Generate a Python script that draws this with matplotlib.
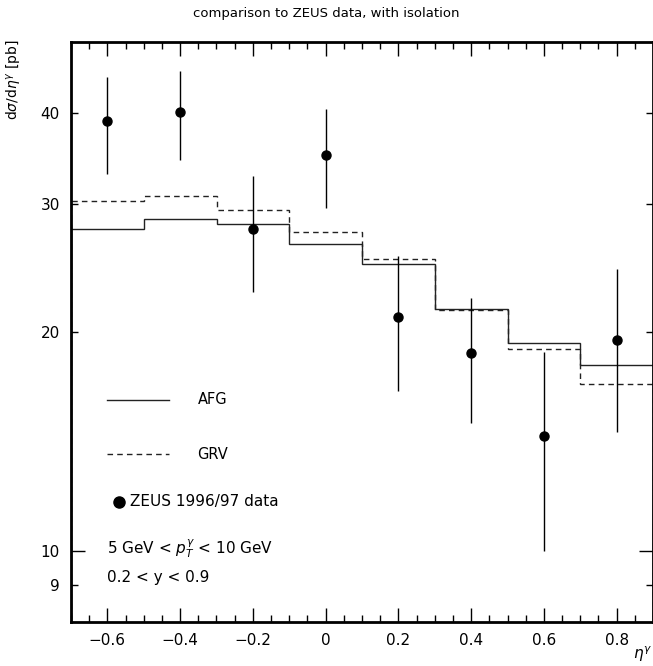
import matplotlib
matplotlib.use("Agg")
import matplotlib.pyplot as plt
from matplotlib.ticker import FixedLocator, FixedFormatter, MultipleLocator

plt.rcParams["font.family"] = ["DejaVu Sans"]
plt.rcParams["mathtext.fontset"] = "dejavusans"

# eta bins for the NLO predictions
bin_edges = [-0.7, -0.5, -0.3, -0.1, 0.1, 0.3, 0.5, 0.7, 0.9]
afg_xsec = [27.7, 28.6, 28.1, 26.4, 24.8, 21.5, 19.3, 18.0]
grv_xsec = [30.3, 30.7, 29.4, 27.4, 25.15, 21.45, 18.95, 16.95]

# ZEUS 1996/97 measurement
zeus_eta = [-0.6, -0.4, -0.2, 0.0, 0.2, 0.4, 0.6, 0.8]
zeus_xsec = [38.9, 40.1, 27.7, 35.0, 20.95, 18.7, 14.4, 19.5]
zeus_hi = [44.7, 45.6, 32.7, 40.4, 25.4, 22.3, 18.8, 24.4]
zeus_lo = [33.0, 34.4, 22.7, 29.6, 16.6, 15.0, 10.0, 14.6]

x_ticks = [-0.6, -0.4, -0.2, 0, 0.2, 0.4, 0.6, 0.8]
x_tick_labels = ["\u22120.6", "\u22120.4", "\u22120.2", "0", "0.2", "0.4", "0.6", "0.8"]
y_major = [10]
y_minor = [9, 20, 30, 40]

fig = plt.figure(figsize=(6.53, 6.66), dpi=100)
ax = fig.add_axes([71 / 653, 44 / 666, 582 / 653, 580 / 666])

ax.stairs(afg_xsec, bin_edges, color="#222222", lw=1.0)
ax.stairs(grv_xsec, bin_edges, color="#222222", lw=1.0, ls=(0, (4, 3)))

err_lo = [v - lo for v, lo in zip(zeus_xsec, zeus_lo)]
err_hi = [hi - v for v, hi in zip(zeus_xsec, zeus_hi)]
ax.errorbar(zeus_eta, zeus_xsec, yerr=[err_lo, err_hi], fmt="o", color="black",
            ms=6.5, elinewidth=1.0, capsize=0)

ax.set_yscale("log")
ax.set_xlim(-0.7, 0.9)
ax.set_ylim(8, 50)

ax.xaxis.set_major_locator(FixedLocator(x_ticks))
ax.set_xticklabels(x_tick_labels)
ax.xaxis.set_minor_locator(MultipleLocator(0.05))
ax.yaxis.set_major_locator(FixedLocator(y_major))
ax.yaxis.set_minor_locator(FixedLocator(y_minor))
ax.yaxis.set_major_formatter(FixedFormatter(["10"]))
ax.yaxis.set_minor_formatter(FixedFormatter([str(v) for v in y_minor]))

ax.tick_params(which="both", direction="in", top=True, right=True, labelsize=11,
               width=1.0, pad=8)
ax.tick_params(which="major", length=10)
ax.tick_params(which="minor", length=5)
ax.tick_params(axis="y", which="minor", labelsize=11, pad=8)
for s in ax.spines.values():
    s.set_linewidth(2.0)

# legend drawn by hand in data coordinates
ax.plot([-0.6, -0.43], [16.15, 16.15], color="#222222", lw=1.0)
ax.text(-0.352, 16.15, "AFG", fontsize=10.5, va="center")
ax.plot([-0.6, -0.43], [13.6, 13.6], color="#222222", lw=1.0, ls=(0, (4, 3)))
ax.text(-0.352, 13.6, "GRV", fontsize=10.5, va="center")
ax.plot([-0.567], [11.7], "o", color="black", ms=8)
ax.text(-0.537, 11.7, "ZEUS 1996/97 data", fontsize=11, va="center")
ax.text(-0.6, 10.1, r"5 GeV < $p_T^{\gamma}$ < 10 GeV", fontsize=11, va="center")
ax.text(-0.6, 9.21, "0.2 < y < 0.9", fontsize=11, va="center")

fig.text(0.5, 1 - 14 / 666, "comparison to ZEUS data, with isolation",
         ha="center", va="center", fontsize=9.5)
fig.text(14 / 653, 1 - 40 / 666, r"d$\sigma$/d$\eta^{\gamma}$ [pb]", rotation=90,
         ha="center", va="top", fontsize=10)
fig.text(652 / 653, 2 / 666, r"$\eta^{\gamma}$", ha="right", va="bottom",
         fontsize=11)

fig.savefig("out.png", dpi=100)
